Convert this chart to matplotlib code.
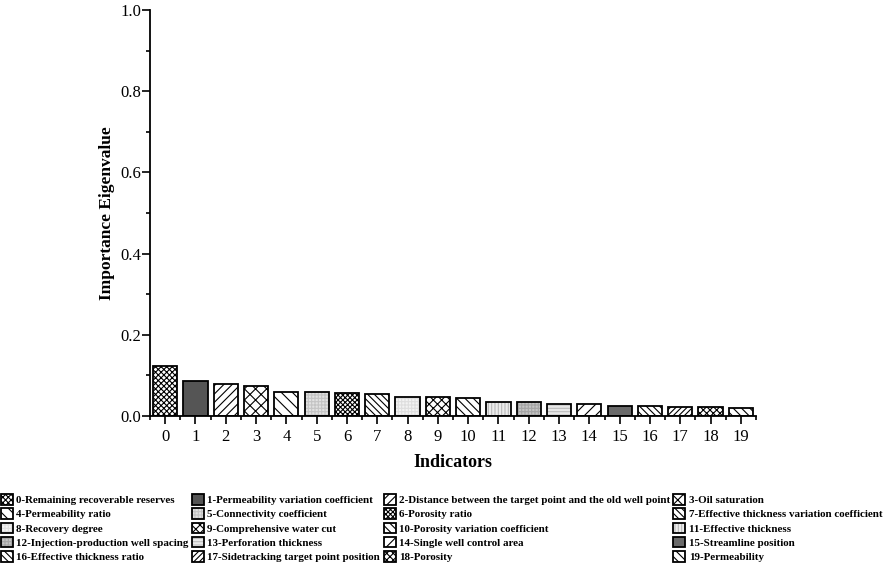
import numpy as np
import matplotlib.pyplot as plt
from matplotlib.ticker import MultipleLocator

plt.rcParams['font.family'] = ['Liberation Serif', 'DejaVu Serif']
plt.rcParams['hatch.linewidth'] = 0.8

names = ['0-Remaining recoverable reserves', '1-Permeability variation coefficient',
         '2-Distance between the target point and the old well point', '3-Oil saturation',
         '4-Permeability ratio', '5-Connectivity coefficient', '6-Porosity ratio',
         '7-Effective thickness variation coefficient', '8-Recovery degree',
         '9-Comprehensive water cut', '10-Porosity variation coefficient',
         '11-Effective thickness', '12-Injection-production well spacing',
         '13-Perforation thickness', '14-Single well control area',
         '15-Streamline position', '16-Effective thickness ratio',
         '17-Sidetracking target point position', '18-Porosity', '19-Permeability']
values = [0.123, 0.085, 0.078, 0.075, 0.060, 0.058, 0.056, 0.054, 0.048, 0.047,
          0.045, 0.035, 0.034, 0.030, 0.029, 0.024, 0.024, 0.022, 0.021, 0.020]

# bar looks: fill, hatch, hatch colour
fills = ['white', '#555555', 'white', 'white', 'white', '#e2e2e2', 'white', 'white',
         '#f3f3f3', 'white', 'white', '#ececec', '#c4c4c4', '#e8e8e8', 'white',
         '#6a6a6a', 'white', 'white', 'white', 'white']
hatches = ['xxxxxx', '', '////', 'xxx', '\\\\\\', '+++++', 'xxxxxxx', '\\\\\\\\\\', '+++++',
           'xxxx', '\\\\\\\\', '|||||', '+++++', '-----', '///', '', '\\\\\\\\\\', '//////',
           'xxxxx', '\\\\\\\\']
hcolors = ['black', 'black', 'black', 'black', 'black', '#c4c4c4', 'black', 'black',
           '#dedede', 'black', 'black', '#b8b8b8', '#a4a4a4', '#bdbdbd', 'black',
           'black', 'black', 'black', 'black', 'black']

fig = plt.figure(figsize=(8.86, 5.66), dpi=100)
ax = fig.add_axes([150 / 886, 1 - 416 / 566, 606 / 886, 406 / 566])

x = np.arange(len(values))
handles_all = []
for i in x:
    hb = ax.bar(i, values[i], width=0.8, color=fills[i], hatch=hatches[i],
                edgecolor=hcolors[i], linewidth=0)
    ob = ax.bar(i, values[i], width=0.8, fill=False, edgecolor='black', linewidth=1.3)
    handles_all.append((hb[0], ob[0]))

ax.set_xlim(-0.5, 19.5)
ax.set_ylim(0, 1.0)
ax.set_xticks(x)
ax.xaxis.set_minor_locator(MultipleLocator(1, offset=0.5))
ax.yaxis.set_minor_locator(MultipleLocator(0.1))
ax.set_yticks(np.arange(0, 1.01, 0.2))
ax.set_yticklabels(['%.1f' % v for v in np.arange(0, 1.01, 0.2)])
ax.tick_params(axis='both', which='major', direction='out', length=5.5, width=1.2, labelsize=12)
ax.tick_params(axis='both', which='minor', direction='out', length=3, width=1.2)
ax.tick_params(axis='x', which='major', pad=4)
ax.tick_params(axis='y', which='major', pad=1)
for s in ['top', 'right']:
    ax.spines[s].set_visible(False)
for s in ['left', 'bottom']:
    ax.spines[s].set_linewidth(1.3)

ax.set_xlabel('Indicators', fontsize=13, fontweight='bold', labelpad=6)
ax.set_ylabel('Importance Eigenvalue', fontsize=12.5, fontweight='bold', labelpad=4)

order = [r * 4 + c for c in range(4) for r in range(5)]
handles = [handles_all[i] for i in order]
labels = [names[i] for i in order]
fig.legend(handles, labels, loc='upper left', bbox_to_anchor=(0.0, 1 - 493 / 566),
           ncol=4, frameon=False, prop={'weight': 'bold', 'size': 7.9},
           handlelength=1.1, handleheight=1.1, handletextpad=0.3,
           columnspacing=0.3, labelspacing=0.3, borderaxespad=0, borderpad=0.1)

fig.savefig('out.png', dpi=100)
